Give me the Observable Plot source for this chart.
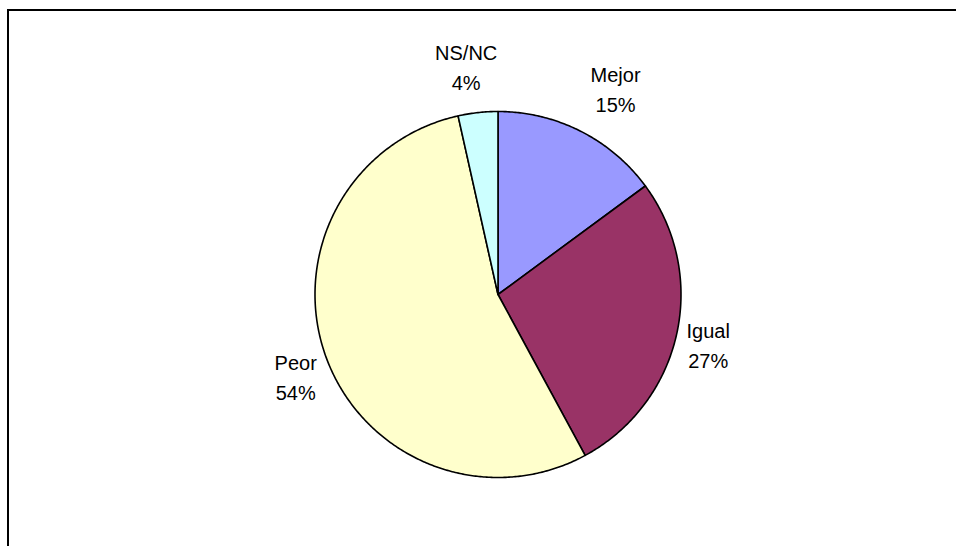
<!DOCTYPE html>
<html>
<head>
<meta charset="utf-8">
<script src="https://cdn.jsdelivr.net/npm/d3@7"></script>
<script src="https://cdn.jsdelivr.net/npm/@observablehq/plot@0.6"></script>
<style>
  html, body { margin: 0; padding: 0; background: #fff; overflow: hidden; }
  #wrap { position: relative; width: 956px; height: 546px; overflow: hidden; }
  #border { position: absolute; left: 7px; top: 9px; width: 1200px; height: 1200px;
            border: 2px solid #000; box-sizing: border-box; pointer-events: none; }
  #chart { position: absolute; left: 0; top: 0; }
</style>
</head>
<body>
<div id="wrap"><div id="chart"></div><div id="border"></div></div>
<script>
// ---- data ----
const categories = ["Mejor", "Igual", "Peor", "NS/NC"];
const values = [14.9, 27.2, 54.4, 3.5];
const pctLabels = ["15%", "27%", "54%", "4%"];

// ---- styles / layout ----
const colors = ["#9999FF", "#993366", "#FFFFCC", "#CCFFFF"];
const W = 956, H = 546;
const cx = 497.5, cy = 294, R = 183;           // pie placement in pixels
const labelDist = [1.30, 1.18, 1.19, 1.265];   // label distance (in radii)
const labelTurn = [2.8, 0.6, -1.2, -1.6];      // label angle nudge (degrees)

// ---- geometry from data ----
const total = d3.sum(values);
let acc = 0;
const slices = categories.map((name, i) => {
  const a0 = acc / total * 2 * Math.PI;
  acc += values[i];
  const a1 = acc / total * 2 * Math.PI;
  return {name, i, a0, a1, mid: (a0 + a1) / 2};
});

const pts = [];
for (const s of slices) {
  pts.push({name: s.name, x: 0, y: 0});
  const n = Math.max(2, Math.ceil((s.a1 - s.a0) / (Math.PI / 360)));
  for (let k = 0; k <= n; k++) {
    const a = s.a0 + (s.a1 - s.a0) * k / n;
    pts.push({name: s.name, x: Math.sin(a), y: Math.cos(a)});
  }
  pts.push({name: s.name, x: 0, y: 0});
}

const labels = slices.map(s => {
  const a = s.mid + labelTurn[s.i] * Math.PI / 180;
  return {
    text: s.name + "\n" + pctLabels[s.i],
    x: Math.sin(a) * labelDist[s.i],
    y: Math.cos(a) * labelDist[s.i]
  };
});

const chart = Plot.plot({
  width: W,
  height: H,
  margin: 0,
  x: {domain: [-cx / R, (W - cx) / R], range: [0, W], axis: null},
  y: {domain: [-(H - cy) / R, cy / R], range: [H, 0], axis: null},
  color: {domain: categories, range: colors},
  style: {background: "transparent", fontFamily: "'Liberation Sans', Arial, sans-serif"},
  marks: [
    Plot.line(pts, {x: "x", y: "y", z: "name", fill: "name", stroke: "#000",
                    strokeWidth: 1.6, strokeLinejoin: "round", curve: "linear"}),
    Plot.text(labels, {x: "x", y: "y", text: "text", fontSize: 20,
                       lineHeight: 1.5, fill: "#000", textAnchor: "middle",
                       lineAnchor: "middle"})
  ]
});
document.getElementById("chart").appendChild(chart);
</script>
</body>
</html>
